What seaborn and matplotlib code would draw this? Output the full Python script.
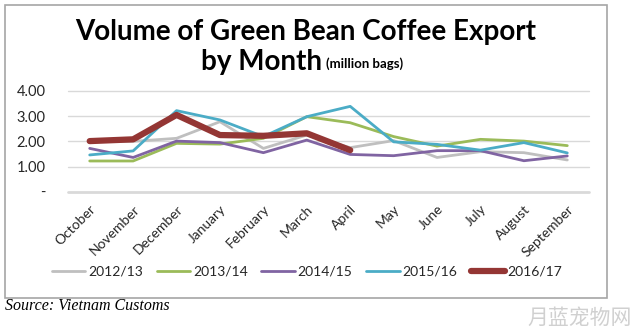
import matplotlib
matplotlib.use("Agg")
import matplotlib.pyplot as plt
import seaborn as sns
import numpy as np
import pandas as pd
from matplotlib.patches import Rectangle

months = ["October", "November", "December", "January", "February", "March",
          "April", "May", "June", "July", "August", "September"]
s2012 = [2.00, 2.00, 2.12, 2.78, 1.72, 2.25, 1.75, 2.03, 1.36, 1.59, 1.55, 1.26]
s2013 = [1.22, 1.22, 1.92, 1.89, 2.12, 2.98, 2.74, 2.19, 1.81, 2.08, 2.01, 1.83]
s2014 = [1.72, 1.36, 2.01, 1.95, 1.55, 2.05, 1.48, 1.43, 1.63, 1.63, 1.23, 1.42]
s2015 = [1.46, 1.62, 3.22, 2.85, 2.19, 2.98, 3.39, 1.98, 1.88, 1.65, 1.95, 1.54]
s2016 = [2.01, 2.08, 3.05, 2.25, 2.22, 2.32, 1.65, None, None, None, None, None]
series_names = ["2012/13", "2013/14", "2014/15", "2015/16", "2016/17"]
yticks = [0, 1, 2, 3, 4]
ytick_labels = ["-", "1.00", "2.00", "3.00", "4.00"]

colors = ["#BFBFBF", "#9BBB59", "#8064A2", "#4BACC6", "#943634"]
widths = [2.0, 2.0, 2.0, 2.0, 4.5]

sns.set_theme(style="white")
plt.rcParams["font.family"] = ["Lato", "DejaVu Sans"]

fig = plt.figure(figsize=(6.43, 3.31), dpi=100)
ax = fig.add_axes([68/643, 1-191.7/331, (589-68)/643, (191.7-91)/331])

all_series = [s2012, s2013, s2014, s2015, s2016]
for name, vals, c, w in zip(series_names, all_series, colors, widths):
    df = pd.DataFrame({"month": months, "value": [np.nan if v is None else v for v in vals]})
    df["x"] = range(len(months))
    sns.lineplot(data=df.dropna(), x="x", y="value", color=c, linewidth=w,
                 label=name, ax=ax, sort=False, zorder=3, solid_capstyle="round")

ax.set_xlim(-0.5, len(months) - 0.5)
ax.set_ylim(0, 4)
ax.set_yticks(yticks)
ax.set_yticklabels(ytick_labels, fontsize=10.5, color="#262626")
ax.set_xticks(range(len(months)))
ax.set_xticklabels(months, rotation=45, ha="right", rotation_mode="anchor",
                   fontsize=10, color="#262626")
ax.tick_params(axis="x", length=0, pad=8)
ax.tick_params(axis="y", length=0, pad=16)
for y in yticks[1:]:
    ax.axhline(y, color="#D9D9D9", lw=1.0, zorder=1, clip_on=False)
ax.axhline(0, color="#D9D9D9", lw=2.0, zorder=1, clip_on=False)
for sp in ax.spines.values():
    sp.set_visible(False)
ax.set_xlabel("")
ax.set_ylabel("")

leg = ax.legend(loc="center", bbox_to_anchor=(307/643, 1-272/331),
                bbox_transform=fig.transFigure, ncol=5, frameon=False,
                fontsize=10, handlelength=2.4, handletextpad=0.2,
                columnspacing=1.0)
for t in leg.get_texts():
    t.set_color("#262626")

fig.text(306/643, 1-32/331, "Volume of Green Bean Coffee Export",
         ha="center", va="center", fontsize=20, fontweight="bold", color="black")
fig.text(322/643, 1-62/331, "by Month", ha="right", va="center",
         fontsize=20, fontweight="bold", color="black")
fig.text(326/643, 1-64/331, "(million bags)", ha="left", va="center",
         fontsize=9.5, fontweight="bold", color="black")

fig.patches.append(Rectangle((5/643, 1-298/331), (607-5)/643, (298-5)/331,
                             transform=fig.transFigure, fill=False,
                             edgecolor="#A6A6A6", lw=1.2))
fig.text(5/643, 1-306/331, "Source: Vietnam Customs", ha="left", va="center",
         fontsize=11.5, style="italic", family="Liberation Serif", color="black")
fig.text(632/643, 1-318/331, "月蓝宠物网", ha="right", va="center",
         fontsize=15, family=["Noto Sans CJK SC"], color="#D0D0D0")

fig.savefig("out.png", dpi=100)
